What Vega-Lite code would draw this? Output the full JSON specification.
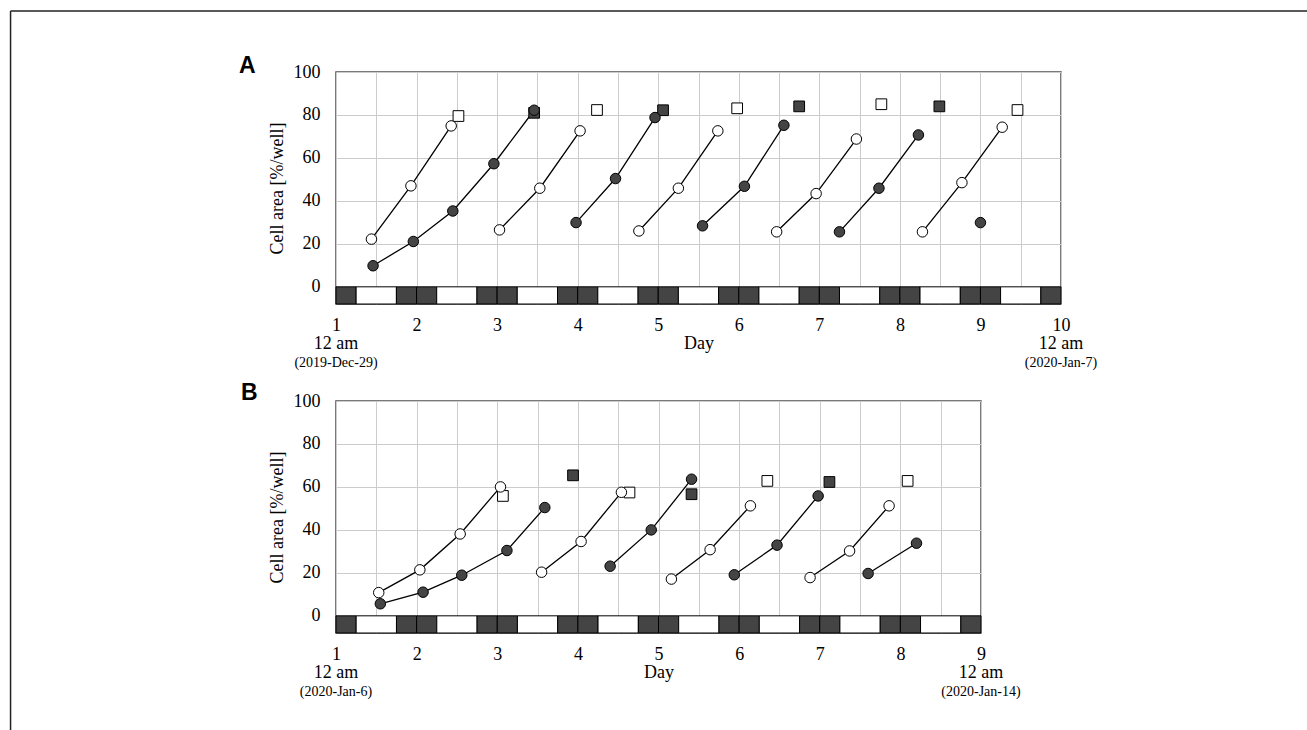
{
  "$schema": "https://vega.github.io/schema/vega-lite/v6.json",
  "background": "white",
  "padding": {"left": 9, "top": 9, "right": 0, "bottom": 0},
  "bounds": "flush",
  "spacing": 97,
  "config": {
    "font": "Liberation Serif",
    "view": {"stroke": "#4d4d4d", "strokeWidth": 1.5},
    "axis": {"labelFont": "Liberation Serif", "titleFont": "Liberation Serif", "labelFontSize": 18, "titleFontSize": 18, "labelColor": "black", "titleColor": "black", "titleFontWeight": "normal", "gridColor": "#cccccc", "gridWidth": 1, "ticks": false, "tickSize": 0, "domain": false},
    "title": {"font": "Liberation Sans", "fontSize": 23, "fontWeight": "bold", "anchor": "start", "frame": "group", "color": "black"}
  },
  "datasets": {
    "bars": [
      {"p": "A", "d": 1, "d2": 1.25, "ph": "dark"}, {"p": "A", "d": 1.25, "d2": 1.75, "ph": "light"},
      {"p": "A", "d": 1.75, "d2": 2, "ph": "dark"}, {"p": "A", "d": 2, "d2": 2.25, "ph": "dark"}, {"p": "A", "d": 2.25, "d2": 2.75, "ph": "light"},
      {"p": "A", "d": 2.75, "d2": 3, "ph": "dark"}, {"p": "A", "d": 3, "d2": 3.25, "ph": "dark"}, {"p": "A", "d": 3.25, "d2": 3.75, "ph": "light"},
      {"p": "A", "d": 3.75, "d2": 4, "ph": "dark"}, {"p": "A", "d": 4, "d2": 4.25, "ph": "dark"}, {"p": "A", "d": 4.25, "d2": 4.75, "ph": "light"},
      {"p": "A", "d": 4.75, "d2": 5, "ph": "dark"}, {"p": "A", "d": 5, "d2": 5.25, "ph": "dark"}, {"p": "A", "d": 5.25, "d2": 5.75, "ph": "light"},
      {"p": "A", "d": 5.75, "d2": 6, "ph": "dark"}, {"p": "A", "d": 6, "d2": 6.25, "ph": "dark"}, {"p": "A", "d": 6.25, "d2": 6.75, "ph": "light"},
      {"p": "A", "d": 6.75, "d2": 7, "ph": "dark"}, {"p": "A", "d": 7, "d2": 7.25, "ph": "dark"}, {"p": "A", "d": 7.25, "d2": 7.75, "ph": "light"},
      {"p": "A", "d": 7.75, "d2": 8, "ph": "dark"}, {"p": "A", "d": 8, "d2": 8.25, "ph": "dark"}, {"p": "A", "d": 8.25, "d2": 8.75, "ph": "light"},
      {"p": "A", "d": 8.75, "d2": 9, "ph": "dark"}, {"p": "A", "d": 9, "d2": 9.25, "ph": "dark"}, {"p": "A", "d": 9.25, "d2": 9.75, "ph": "light"},
      {"p": "A", "d": 9.75, "d2": 10, "ph": "dark"},
      {"p": "B", "d": 1, "d2": 1.25, "ph": "dark"}, {"p": "B", "d": 1.25, "d2": 1.75, "ph": "light"},
      {"p": "B", "d": 1.75, "d2": 2, "ph": "dark"}, {"p": "B", "d": 2, "d2": 2.25, "ph": "dark"}, {"p": "B", "d": 2.25, "d2": 2.75, "ph": "light"},
      {"p": "B", "d": 2.75, "d2": 3, "ph": "dark"}, {"p": "B", "d": 3, "d2": 3.25, "ph": "dark"}, {"p": "B", "d": 3.25, "d2": 3.75, "ph": "light"},
      {"p": "B", "d": 3.75, "d2": 4, "ph": "dark"}, {"p": "B", "d": 4, "d2": 4.25, "ph": "dark"}, {"p": "B", "d": 4.25, "d2": 4.75, "ph": "light"},
      {"p": "B", "d": 4.75, "d2": 5, "ph": "dark"}, {"p": "B", "d": 5, "d2": 5.25, "ph": "dark"}, {"p": "B", "d": 5.25, "d2": 5.75, "ph": "light"},
      {"p": "B", "d": 5.75, "d2": 6, "ph": "dark"}, {"p": "B", "d": 6, "d2": 6.25, "ph": "dark"}, {"p": "B", "d": 6.25, "d2": 6.75, "ph": "light"},
      {"p": "B", "d": 6.75, "d2": 7, "ph": "dark"}, {"p": "B", "d": 7, "d2": 7.25, "ph": "dark"}, {"p": "B", "d": 7.25, "d2": 7.75, "ph": "light"},
      {"p": "B", "d": 7.75, "d2": 8, "ph": "dark"}, {"p": "B", "d": 8, "d2": 8.25, "ph": "dark"}, {"p": "B", "d": 8.25, "d2": 8.75, "ph": "light"},
      {"p": "B", "d": 8.75, "d2": 9, "ph": "dark"}
    ],
    "pts": [
      {"p": "A", "s": "Ao1", "k": "open", "d": 1.44, "v": 22.2}, {"p": "A", "s": "Ao1", "k": "open", "d": 1.93, "v": 47.0}, {"p": "A", "s": "Ao1", "k": "open", "d": 2.43, "v": 74.9},
      {"p": "A", "s": "Af1", "k": "filled", "d": 1.46, "v": 9.8}, {"p": "A", "s": "Af1", "k": "filled", "d": 1.96, "v": 21.1}, {"p": "A", "s": "Af1", "k": "filled", "d": 2.45, "v": 35.3}, {"p": "A", "s": "Af1", "k": "filled", "d": 2.96, "v": 57.3}, {"p": "A", "s": "Af1", "k": "filled", "d": 3.46, "v": 82.2},
      {"p": "A", "s": "Ao2", "k": "open", "d": 3.03, "v": 26.5}, {"p": "A", "s": "Ao2", "k": "open", "d": 3.53, "v": 45.9}, {"p": "A", "s": "Ao2", "k": "open", "d": 4.03, "v": 72.6},
      {"p": "A", "s": "Af2", "k": "filled", "d": 3.98, "v": 29.9}, {"p": "A", "s": "Af2", "k": "filled", "d": 4.47, "v": 50.4}, {"p": "A", "s": "Af2", "k": "filled", "d": 4.96, "v": 78.8},
      {"p": "A", "s": "Ao3", "k": "open", "d": 4.76, "v": 26.0}, {"p": "A", "s": "Ao3", "k": "open", "d": 5.25, "v": 45.9}, {"p": "A", "s": "Ao3", "k": "open", "d": 5.74, "v": 72.6},
      {"p": "A", "s": "Af3", "k": "filled", "d": 5.55, "v": 28.4}, {"p": "A", "s": "Af3", "k": "filled", "d": 6.07, "v": 46.8}, {"p": "A", "s": "Af3", "k": "filled", "d": 6.56, "v": 75.2},
      {"p": "A", "s": "Ao4", "k": "open", "d": 6.47, "v": 25.6}, {"p": "A", "s": "Ao4", "k": "open", "d": 6.96, "v": 43.4}, {"p": "A", "s": "Ao4", "k": "open", "d": 7.46, "v": 68.8},
      {"p": "A", "s": "Af4", "k": "filled", "d": 7.25, "v": 25.6}, {"p": "A", "s": "Af4", "k": "filled", "d": 7.74, "v": 45.9}, {"p": "A", "s": "Af4", "k": "filled", "d": 8.23, "v": 70.7},
      {"p": "A", "s": "Ao5", "k": "open", "d": 8.28, "v": 25.6}, {"p": "A", "s": "Ao5", "k": "open", "d": 8.77, "v": 48.5}, {"p": "A", "s": "Ao5", "k": "open", "d": 9.27, "v": 74.3},
      {"p": "A", "s": "Af5", "k": "filled", "d": 9.0, "v": 29.9},
      {"p": "B", "s": "Bo1", "k": "open", "d": 1.53, "v": 10.8}, {"p": "B", "s": "Bo1", "k": "open", "d": 2.04, "v": 21.4}, {"p": "B", "s": "Bo1", "k": "open", "d": 2.54, "v": 38.1}, {"p": "B", "s": "Bo1", "k": "open", "d": 3.04, "v": 60.0},
      {"p": "B", "s": "Bf1", "k": "filled", "d": 1.55, "v": 5.6}, {"p": "B", "s": "Bf1", "k": "filled", "d": 2.08, "v": 11.0}, {"p": "B", "s": "Bf1", "k": "filled", "d": 2.56, "v": 18.9}, {"p": "B", "s": "Bf1", "k": "filled", "d": 3.12, "v": 30.4}, {"p": "B", "s": "Bf1", "k": "filled", "d": 3.59, "v": 50.4},
      {"p": "B", "s": "Bo2", "k": "open", "d": 3.55, "v": 20.3}, {"p": "B", "s": "Bo2", "k": "open", "d": 4.04, "v": 34.6}, {"p": "B", "s": "Bo2", "k": "open", "d": 4.54, "v": 57.5},
      {"p": "B", "s": "Bf2", "k": "filled", "d": 4.40, "v": 23.1}, {"p": "B", "s": "Bf2", "k": "filled", "d": 4.91, "v": 40.0}, {"p": "B", "s": "Bf2", "k": "filled", "d": 5.41, "v": 63.6},
      {"p": "B", "s": "Bo3", "k": "open", "d": 5.16, "v": 17.1}, {"p": "B", "s": "Bo3", "k": "open", "d": 5.64, "v": 30.8}, {"p": "B", "s": "Bo3", "k": "open", "d": 6.14, "v": 51.2},
      {"p": "B", "s": "Bf3", "k": "filled", "d": 5.94, "v": 19.1}, {"p": "B", "s": "Bf3", "k": "filled", "d": 6.47, "v": 32.9}, {"p": "B", "s": "Bf3", "k": "filled", "d": 6.98, "v": 55.8},
      {"p": "B", "s": "Bo4", "k": "open", "d": 6.88, "v": 17.8}, {"p": "B", "s": "Bo4", "k": "open", "d": 7.37, "v": 30.2}, {"p": "B", "s": "Bo4", "k": "open", "d": 7.86, "v": 51.2},
      {"p": "B", "s": "Bf4", "k": "filled", "d": 7.60, "v": 19.7}, {"p": "B", "s": "Bf4", "k": "filled", "d": 8.20, "v": 33.8}
    ],
    "sq": [
      {"p": "A", "k": "open", "d": 2.52, "v": 79.5}, {"p": "A", "k": "filled", "d": 3.46, "v": 81.0}, {"p": "A", "k": "open", "d": 4.24, "v": 82.3},
      {"p": "A", "k": "filled", "d": 5.06, "v": 82.2}, {"p": "A", "k": "open", "d": 5.98, "v": 83.1}, {"p": "A", "k": "filled", "d": 6.75, "v": 84.0},
      {"p": "A", "k": "open", "d": 7.77, "v": 85.0}, {"p": "A", "k": "filled", "d": 8.49, "v": 84.0}, {"p": "A", "k": "open", "d": 9.46, "v": 82.3},
      {"p": "B", "k": "open", "d": 3.07, "v": 55.8}, {"p": "B", "k": "filled", "d": 3.94, "v": 65.4}, {"p": "B", "k": "open", "d": 4.64, "v": 57.4},
      {"p": "B", "k": "filled", "d": 5.41, "v": 56.6}, {"p": "B", "k": "open", "d": 6.35, "v": 62.8}, {"p": "B", "k": "filled", "d": 7.12, "v": 62.3},
      {"p": "B", "k": "open", "d": 8.09, "v": 62.8}
    ],
    "labs": [
      {"p": "A", "d": 1, "l1": "12 am", "l2": "(2019-Dec-29)"},
      {"p": "A", "d": 10, "l1": "12 am", "l2": "(2020-Jan-7)"},
      {"p": "B", "d": 1, "l1": "12 am", "l2": "(2020-Jan-6)"},
      {"p": "B", "d": 9, "l1": "12 am", "l2": "(2020-Jan-14)"}
    ]
  },
  "vconcat": [
    {
      "title": {"text": "A", "dx": -97, "dy": 72},
      "width": 725,
      "height": 232,
      "layer": [
        {
          "data": {"name": "bars"},
          "transform": [{"filter": "datum.p == 'A'"}],
          "mark": {"type": "rect", "stroke": "black", "strokeWidth": 1},
          "encoding": {
            "x": {"field": "d", "type": "quantitative", "scale": {"domain": [1, 10], "nice": false, "zero": false},
              "axis": {"title": "Day", "values": [1, 1.5, 2, 2.5, 3, 3.5, 4, 4.5, 5, 5.5, 6, 6.5, 7, 7.5, 8, 8.5, 9, 9.5, 10], "labelExpr": "datum.value % 1 === 0 ? format(datum.value, 'd') : ''", "labelPadding": 12, "titlePadding": 0, "labelFlush": false, "labelOverlap": false, "grid": true}},
            "x2": {"field": "d2"},
            "y": {"datum": -8, "type": "quantitative", "scale": {"domain": [-8, 100], "nice": false, "zero": false},
              "axis": {"title": "Cell area [%/well]", "values": [0, 20, 40, 60, 80, 100], "labelPadding": 16, "titlePadding": 7, "labelFlush": false, "grid": true}},
            "y2": {"datum": 0},
            "fill": {"field": "ph", "type": "nominal", "scale": {"domain": ["dark", "light"], "range": ["#444444", "#ffffff"]}, "legend": null}
          }
        },
        {
          "data": {"name": "pts"},
          "transform": [{"filter": "datum.p == 'A'"}],
          "mark": {"type": "line", "color": "black", "strokeWidth": 1.3},
          "encoding": {
            "x": {"field": "d", "type": "quantitative"},
            "y": {"field": "v", "type": "quantitative"},
            "detail": {"field": "s", "type": "nominal"}
          }
        },
        {
          "data": {"name": "sq"},
          "transform": [{"filter": "datum.p == 'A'"}],
          "mark": {"type": "square", "size": 115, "stroke": "black", "strokeWidth": 1, "opacity": 1},
          "encoding": {
            "x": {"field": "d", "type": "quantitative"},
            "y": {"field": "v", "type": "quantitative"},
            "fill": {"field": "k", "type": "nominal", "scale": {"domain": ["filled", "open"], "range": ["#333333", "#ffffff"]}, "legend": null}
          }
        },
        {
          "data": {"name": "pts"},
          "transform": [{"filter": "datum.p == 'A'"}],
          "mark": {"type": "circle", "size": 110, "stroke": "black", "strokeWidth": 1, "opacity": 1},
          "encoding": {
            "x": {"field": "d", "type": "quantitative"},
            "y": {"field": "v", "type": "quantitative"},
            "fill": {"field": "k", "type": "nominal", "legend": null}
          }
        },
        {
          "data": {"name": "labs"},
          "transform": [{"filter": "datum.p == 'A'"}],
          "mark": {"type": "text", "font": "Liberation Serif", "fontSize": 18, "baseline": "middle", "align": "center", "color": "black"},
          "encoding": {
            "x": {"field": "d", "type": "quantitative"},
            "y": {"datum": -26.5, "type": "quantitative"},
            "text": {"field": "l1"}
          }
        },
        {
          "data": {"name": "labs"},
          "transform": [{"filter": "datum.p == 'A'"}],
          "mark": {"type": "text", "font": "Liberation Serif", "fontSize": 14, "baseline": "middle", "align": "center", "color": "black"},
          "encoding": {
            "x": {"field": "d", "type": "quantitative"},
            "y": {"datum": -35.3, "type": "quantitative"},
            "text": {"field": "l2"}
          }
        },
        {
          "data": {"values": [{}]},
          "mark": {"type": "rule", "color": "#222222", "strokeWidth": 1.5},
          "encoding": {
            "x": {"datum": -3.04, "type": "quantitative"},
            "y": {"datum": 128.4, "type": "quantitative"},
            "y2": {"datum": -206.8}
          }
        },
        {
          "data": {"values": [{}]},
          "mark": {"type": "rule", "color": "#222222", "strokeWidth": 1.5},
          "encoding": {
            "x": {"datum": -3.04, "type": "quantitative"},
            "x2": {"datum": 13.07},
            "y": {"datum": 128.4, "type": "quantitative"}
          }
        }
      ]
    },
    {
      "title": {"text": "B", "dx": -95, "dy": 17},
      "width": 645,
      "height": 232,
      "layer": [
        {
          "data": {"name": "bars"},
          "transform": [{"filter": "datum.p == 'B'"}],
          "mark": {"type": "rect", "stroke": "black", "strokeWidth": 1},
          "encoding": {
            "x": {"field": "d", "type": "quantitative", "scale": {"domain": [1, 9], "nice": false, "zero": false},
              "axis": {"title": "Day", "values": [1, 1.5, 2, 2.5, 3, 3.5, 4, 4.5, 5, 5.5, 6, 6.5, 7, 7.5, 8, 8.5, 9], "labelExpr": "datum.value % 1 === 0 ? format(datum.value, 'd') : ''", "labelPadding": 12, "titlePadding": 0, "labelFlush": false, "labelOverlap": false, "grid": true}},
            "x2": {"field": "d2"},
            "y": {"datum": -8, "type": "quantitative", "scale": {"domain": [-8, 100], "nice": false, "zero": false},
              "axis": {"title": "Cell area [%/well]", "values": [0, 20, 40, 60, 80, 100], "labelPadding": 16, "titlePadding": 7, "labelFlush": false, "grid": true}},
            "y2": {"datum": 0},
            "fill": {"field": "ph", "type": "nominal", "scale": {"domain": ["dark", "light"], "range": ["#444444", "#ffffff"]}, "legend": null}
          }
        },
        {
          "data": {"name": "pts"},
          "transform": [{"filter": "datum.p == 'B'"}],
          "mark": {"type": "line", "color": "black", "strokeWidth": 1.3},
          "encoding": {
            "x": {"field": "d", "type": "quantitative"},
            "y": {"field": "v", "type": "quantitative"},
            "detail": {"field": "s", "type": "nominal"}
          }
        },
        {
          "data": {"name": "sq"},
          "transform": [{"filter": "datum.p == 'B'"}],
          "mark": {"type": "square", "size": 115, "stroke": "black", "strokeWidth": 1, "opacity": 1},
          "encoding": {
            "x": {"field": "d", "type": "quantitative"},
            "y": {"field": "v", "type": "quantitative"},
            "fill": {"field": "k", "type": "nominal", "scale": {"domain": ["filled", "open"], "range": ["#333333", "#ffffff"]}, "legend": null}
          }
        },
        {
          "data": {"name": "pts"},
          "transform": [{"filter": "datum.p == 'B'"}],
          "mark": {"type": "circle", "size": 110, "stroke": "black", "strokeWidth": 1, "opacity": 1},
          "encoding": {
            "x": {"field": "d", "type": "quantitative"},
            "y": {"field": "v", "type": "quantitative"},
            "fill": {"field": "k", "type": "nominal", "legend": null}
          }
        },
        {
          "data": {"name": "labs"},
          "transform": [{"filter": "datum.p == 'B'"}],
          "mark": {"type": "text", "font": "Liberation Serif", "fontSize": 18, "baseline": "middle", "align": "center", "color": "black"},
          "encoding": {
            "x": {"field": "d", "type": "quantitative"},
            "y": {"datum": -26.5, "type": "quantitative"},
            "text": {"field": "l1"}
          }
        },
        {
          "data": {"name": "labs"},
          "transform": [{"filter": "datum.p == 'B'"}],
          "mark": {"type": "text", "font": "Liberation Serif", "fontSize": 14, "baseline": "middle", "align": "center", "color": "black"},
          "encoding": {
            "x": {"field": "d", "type": "quantitative"},
            "y": {"datum": -35.3, "type": "quantitative"},
            "text": {"field": "l2"}
          }
        }
      ]
    }
  ]
}
